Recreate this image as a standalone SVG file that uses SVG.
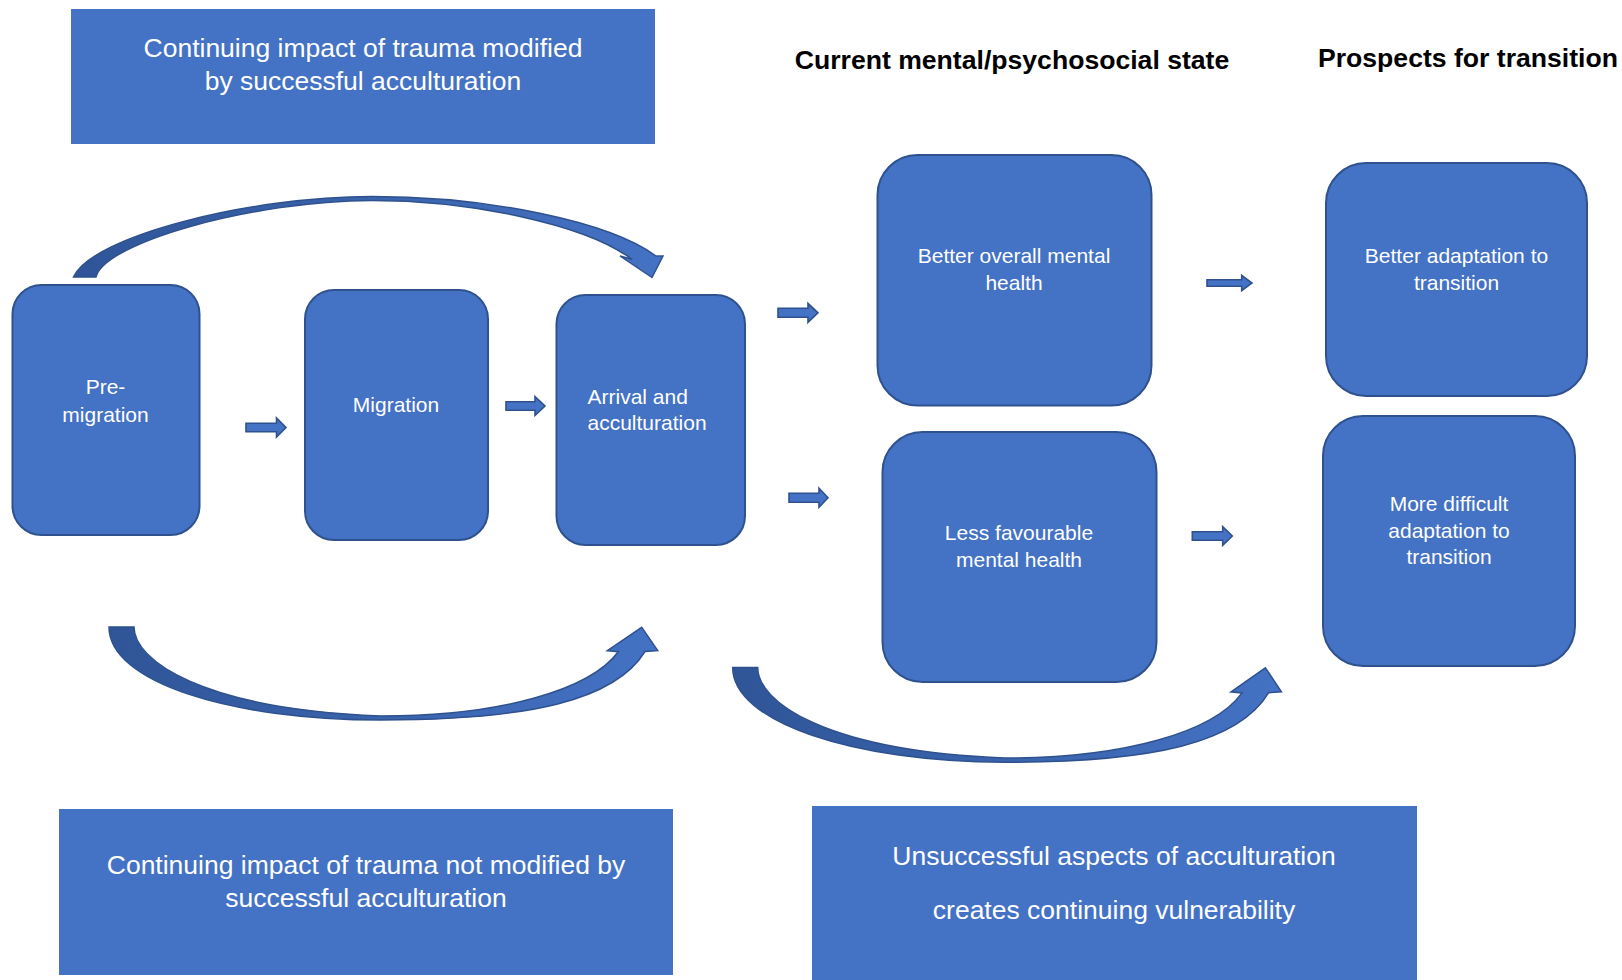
<svg xmlns="http://www.w3.org/2000/svg" width="1622" height="980" viewBox="0 0 1622 980">
<style>
.box{fill:#4472C4;}
.node{fill:#4472C4;stroke:#2F528F;stroke-width:2;}
.t{font-family:"Liberation Sans",Arial,sans-serif;fill:#ffffff;text-anchor:middle;}
.big{font-size:26.5px;}
.sm{font-size:21px;}
.hdr{font-family:"Liberation Sans",Arial,sans-serif;font-weight:bold;font-size:26.6px;fill:#000000;text-anchor:middle;}
.ba{fill:#4472C4;stroke:#2F528F;stroke-width:1.6;}
.curve{stroke:#2F528F;stroke-width:1.5;}
</style>
<defs>
<linearGradient id="gTop" x1="0" y1="0" x2="1" y2="0">
<stop offset="0" stop-color="#2F5597"/>
<stop offset="1" stop-color="#4472C4"/>
</linearGradient>
</defs>
<rect width="1622" height="980" fill="#ffffff"/>

<g id="note-top">
<rect class="box" x="71" y="9" width="584" height="135"/>
<text class="t big" x="363" y="57">Continuing impact of trauma modified</text>
<text class="t big" x="363" y="90">by successful acculturation</text>
</g>

<g id="note-bottom-left">
<rect class="box" x="59" y="809" width="614" height="166"/>
<text class="t big" x="366" y="874">Continuing impact of trauma not modified by</text>
<text class="t big" x="366" y="907">successful acculturation</text>
</g>

<g id="note-bottom-right">
<rect class="box" x="812" y="806" width="605" height="174"/>
<text class="t big" x="1114" y="865">Unsuccessful aspects of acculturation</text>
<text class="t big" x="1114" y="919">creates continuing vulnerability</text>
</g>

<g id="header-current">
<text class="hdr" x="1012" y="69">Current mental/psychosocial state</text>
</g>
<g id="header-prospects">
<text class="hdr" x="1468" y="67">Prospects for transition</text>
</g>

<g id="premigration">
<rect class="node" x="12.5" y="285" width="187" height="250" rx="29"/>
<text class="t sm" x="105.5" y="393.5">Pre-</text>
<text class="t sm" x="105.5" y="421.5">migration</text>
</g>

<g id="migration">
<rect class="node" x="305" y="290" width="183" height="250" rx="29"/>
<text class="t sm" x="396" y="412">Migration</text>
</g>

<g id="arrival">
<rect class="node" x="556.5" y="295" width="188.5" height="250" rx="29"/>
<text class="t sm" x="587.5" y="403.5" style="text-anchor:start">Arrival and</text>
<text class="t sm" x="587.5" y="429.5" style="text-anchor:start">acculturation</text>
</g>

<g id="better-mental">
<rect class="node" x="877.5" y="155" width="274" height="250.5" rx="40"/>
<text class="t sm" x="1014" y="263">Better overall mental</text>
<text class="t sm" x="1014" y="290">health</text>
</g>

<g id="less-mental">
<rect class="node" x="882.5" y="432" width="274" height="250" rx="40"/>
<text class="t sm" x="1019" y="540">Less favourable</text>
<text class="t sm" x="1019" y="567">mental health</text>
</g>

<g id="better-adaptation">
<rect class="node" x="1326" y="163" width="261" height="233" rx="40"/>
<text class="t sm" x="1456.5" y="263">Better adaptation to</text>
<text class="t sm" x="1456.5" y="290">transition</text>
</g>

<g id="difficult-adaptation">
<rect class="node" x="1323" y="416" width="252" height="250" rx="40"/>
<text class="t sm" x="1449" y="511">More difficult</text>
<text class="t sm" x="1449" y="538">adaptation to</text>
<text class="t sm" x="1449" y="564">transition</text>
</g>

<g id="connectors">
<path class="ba" d="M246 423.3 H276.5 V418 L286 427.5 L276.5 437 V431.7 H246 Z"/>
<path class="ba" d="M506 401.7 H535 V396.7 L545 406 L535 415.3 V410.3 H506 Z"/>
<path class="ba" d="M778 308.3 H808 V303.3 L818 312.8 L808 322.3 V317.3 H778 Z"/>
<path class="ba" d="M789 493.3 H819 V488.3 L828 497.8 L819 507.3 V502.3 H789 Z"/>
<path class="ba" d="M1207 279.7 H1241.7 V275.3 L1252 283 L1241.7 290.7 V286.3 H1207 Z"/>
<path class="ba" d="M1192.3 531.7 H1222.7 V526.7 L1232.3 536 L1222.7 545.3 V540.3 H1192.3 Z"/>

<path class="curve" fill="url(#gTop)" d="M73.5 277 C92 236 250 196.5 372 196.5 C490 196.5 610 222 656 256 L663 256 L652 277.5 L620 256 L632 259.3 C585 224 470 200.5 372 200.5 C250 201 104 243 96 277 Z"/>

<path class="curve" fill="url(#gTop)" d="M109 627 C109 682 230 720 381 720 C530 720 615 700 645 651.5 L657.7 650.7 L641.7 627.3 L607.3 650.7 L618.3 651.7 C590 690 500 716 381 716 C200 709 134 660 134 627 Z"/>

<path class="curve" fill="url(#gTop)" transform="translate(623.7 41) scale(1 1.03) translate(0 -18.8)" d="M109 627 C109 680 230 719 381 719 C530 719 615 700 645 651.5 L657.7 650.7 L641.7 627.3 L607.3 650.7 L618.3 651.7 C590 690 500 715 381 715 C200 708 134 660 134 627 Z"/>
</g>
</svg>
